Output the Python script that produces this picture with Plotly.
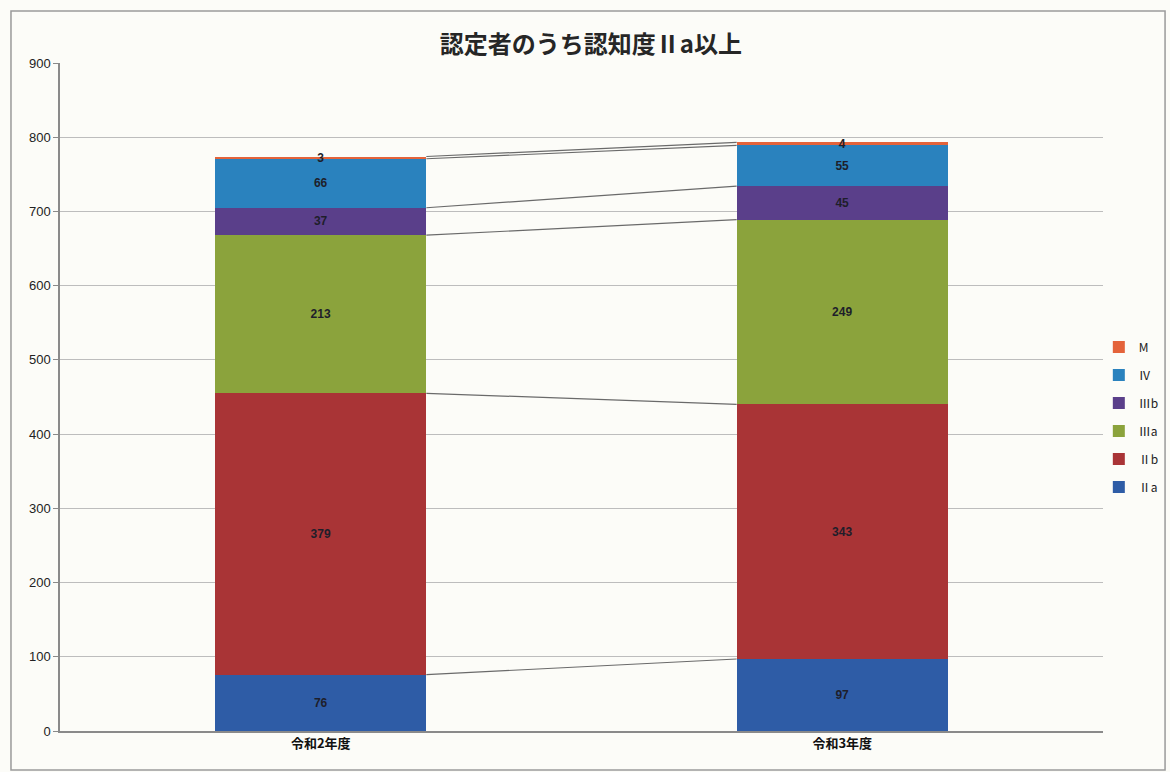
import plotly.graph_objects as go

# Care-level recipients with dementia level IIa or above, by fiscal year
years = ["令和2年度", "令和3年度"]
levels = ["Ⅱa", "Ⅱb", "Ⅲa", "Ⅲb", "Ⅳ", "M"]
counts = {
    "Ⅱa": [76, 97],
    "Ⅱb": [379, 343],
    "Ⅲa": [213, 249],
    "Ⅲb": [37, 45],
    "Ⅳ": [66, 55],
    "M": [3, 4],
}
colors = {
    "Ⅱa": "#2E5CA6",
    "Ⅱb": "#A93436",
    "Ⅲa": "#8BA33C",
    "Ⅲb": "#5A3F8A",
    "Ⅳ": "#2A82BE",
    "M": "#E4633A",
}

FONT = "Noto Sans CJK JP"
BAR_W = 0.405
xpos = list(range(len(years)))

fig = go.Figure()

# stacked segments, bottom level first; legend lists the top level first
for i, lv in enumerate(levels):
    fig.add_trace(go.Bar(
        x=xpos, y=counts[lv], name=lv, legendgroup=lv,
        legendrank=len(levels) - i,
        width=BAR_W,
        marker=dict(color=colors[lv], line=dict(width=0)),
        text=[f"<b>{v}</b>" for v in counts[lv]],
        textposition="inside", insidetextanchor="middle",
        constraintext="none",
        textfont=dict(family="Liberation Sans", size=12, color="#1e1e2a"),
        textangle=0,
    ))

# series lines joining the segment tops of adjacent bars
cum = [0] * len(years)
for lv in levels:
    cum = [c + v for c, v in zip(cum, counts[lv])]
    fig.add_trace(go.Scatter(
        x=[xpos[0] + BAR_W / 2, xpos[1] - BAR_W / 2], y=cum,
        mode="lines", line=dict(color="#6a6a6a", width=1.2),
        showlegend=False, hoverinfo="skip",
    ))

fig.update_layout(
    width=1170, height=772,
    barmode="stack",
    paper_bgcolor="#fcfcf8",
    plot_bgcolor="#fcfcf8",
    margin=dict(l=60, r=67, t=63, b=41, autoexpand=False),
    title=dict(text="<b>認定者のうち認知度Ⅱa以上</b>", x=0.505, xanchor="center",
               y=0.942, yanchor="middle",
               font=dict(family=FONT, size=24, color="#262626")),
    font=dict(family=FONT, color="#222"),
    legend=dict(x=0.996, xanchor="left", y=0.47, yanchor="middle",
                traceorder="grouped", tracegroupgap=9,
                font=dict(family=FONT, size=12, color="#222"),
                bgcolor="rgba(0,0,0,0)", itemwidth=30),
    showlegend=True,
    xaxis=dict(
        range=[-0.5, 1.5], tickmode="array", tickvals=xpos,
        ticktext=[f"<b>{y}</b>" for y in years],
        tickfont=dict(family=FONT, size=13, color="#111"),
        showgrid=False, showline=True, linecolor="#8a8a8a", linewidth=1.5,
        ticks="", zeroline=False,
    ),
    yaxis=dict(
        range=[0, 900], dtick=100, tickformat="d",
        tickfont=dict(family="Liberation Sans", size=13, color="#222"),
        showgrid=True, gridcolor="#bdbdbd", gridwidth=1,
        showline=True, linecolor="#8a8a8a", linewidth=1.5,
        ticks="outside", ticklen=5, tickcolor="#8a8a8a",
        zeroline=False,
    ),
    shapes=[dict(type="rect", xref="paper", yref="paper",
                 x0=-0.047, x1=1.0595, y0=-0.0584, y1=1.0778,
                 line=dict(color="#9a9a9a", width=1.5), layer="below")],
)

fig.write_html("out.html")
